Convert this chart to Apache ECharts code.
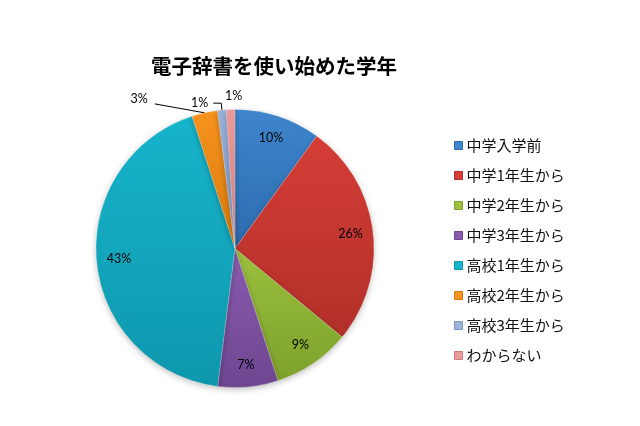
<!DOCTYPE html>
<html><head><meta charset="utf-8">
<script src="https://cdn.jsdelivr.net/npm/echarts@6/dist/echarts.min.js"></script>
<style>html,body{margin:0;padding:0;background:#fff}#c{width:640px;height:426px}</style>
</head><body><div id="c"></div>
<script>
const categories = ['中学入学前','中学1年生から','中学2年生から','中学3年生から','高校1年生から','高校2年生から','高校3年生から','わからない'];
const values = [10, 26, 9, 7, 43, 3, 1, 1];
const colors = ['#3E86CE','#D53E37','#9BC13D','#8A5CAF','#17B4CB','#F7931E','#9CB4DC','#EA9C9B'];
const darkColors = ['#2C6BAE','#B22F29','#7EA12C','#6E4690','#0E97AD','#D87A0E','#7E97C2','#CF7F7E'];
const title = '電子辞書を使い始めた学年';

function grad(i){
  return new echarts.graphic.LinearGradient(0,0,0,1,[{offset:0,color:colors[i]},{offset:1,color:darkColors[i]}]);
}
const lineLen2 = {5:44, 6:8, 7:6};
const mainData = categories.map((n,i)=>({name:n,value:values[i],itemStyle:{color:grad(i)},
  label:{show: values[i] < 5},
  labelLine:{show: i !== 7, length:7,length2:lineLen2[i]||10}}));
const innerData = categories.map((n,i)=>({name:n,value:values[i],label:{show: values[i] >= 5}}));

const chart = echarts.init(document.getElementById('c'));
chart.setOption({
  animation:false,
  title:{text:title,left:269,top:51,textAlign:'center',textStyle:{fontFamily:'Noto Sans CJK JP',fontWeight:'bold',fontSize:20.5,color:'#000'}},
  legend:{orient:'vertical',left:449,top:133,icon:'rect',itemWidth:8,itemHeight:8,itemGap:15,
    data:categories.map((n,i)=>({name:n,itemStyle:{color:colors[i],borderColor:darkColors[i],borderWidth:1}})),
    textStyle:{fontFamily:'Noto Sans CJK JP',fontSize:15,color:'#111',padding:[0,0,0,-1]}},
  series:[
    {type:'pie',center:[235,248.5],radius:[0,139],startAngle:90,clockwise:true,avoidLabelOverlap:false,
     itemStyle:{borderColor:'rgba(255,255,255,0.35)',borderWidth:0.6,shadowBlur:6,shadowColor:'rgba(0,0,0,0.25)',shadowOffsetY:2},
     label:{position:'outside',formatter:'{c}%',fontFamily:'Lato',fontSize:12.5,color:'#000'},
     labelLine:{lineStyle:{color:'#000',width:1}},
     emphasis:{disabled:true},
     labelLayout:function(p){
       if(p.dataIndex===5 && p.labelLinePoints){
         const a = p.labelLinePoints[0];
         return {x:a[0]-57, y:a[1]-14, align:'right', verticalAlign:'middle',
                 labelLinePoints:[a,[a[0]-50,a[1]-9]]};
       }
       if(p.dataIndex===7){
         return {x:p.rect.x-1, y:p.rect.y-13, align:'left', verticalAlign:'middle'};
       }
       return {};
     },
     data:mainData},
    {type:'pie',center:[235,248.5],radius:[88,139],startAngle:90,clockwise:true,silent:true,
     itemStyle:{color:'rgba(0,0,0,0)'},
     label:{position:'inside',formatter:'{c}%',fontFamily:'Lato',fontSize:12.5,color:'#000'},
     labelLine:{show:false},emphasis:{disabled:true},
     data:innerData}
  ]
});
</script></body></html>
